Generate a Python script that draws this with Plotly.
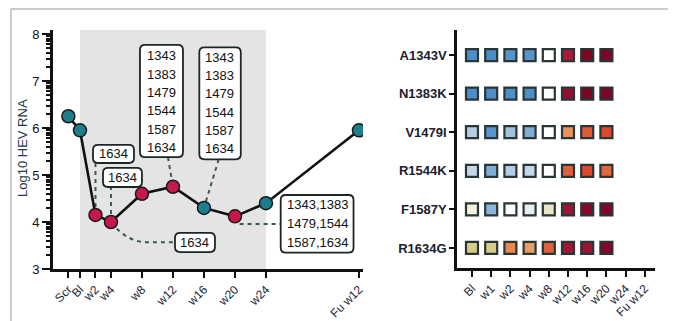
import math
import plotly.graph_objects as go

# ---------------- data: left panel ----------------
timepoints = ["Scr", "Bl", "w2", "w4", "w8", "w12", "w16", "w20", "w24", "Fu w12"]
weeks = [-1.5, 0, 2, 4, 8, 12, 16, 20, 24, 36]
log_hev_rna = [6.25, 5.95, 4.15, 4.0, 4.6, 4.75, 4.3, 4.12, 4.4, 5.95]
variant_detected = [False, False, True, True, True, True, False, True, False, False]

# ---------------- data: right panel ----------------
mutations = ["A1343V", "N1383K", "V1479I", "R1544K", "F1587Y", "R1634G"]
hm_timepoints = ["Bl", "w1", "w2", "w4", "w8", "w12", "w16", "w20", "w24", "Fu w12"]
a1343v = [-0.85, -0.85, -0.8, -0.8, 0.0, 0.86, 0.98, 0.98, None, None]
n1383k = [-0.85, -0.85, -0.85, -0.85, 0.0, 0.92, 0.98, 0.98, None, None]
v1479i = [-0.4, -0.8, -0.5, -0.65, 0.0, 0.5, 0.66, 0.72, None, None]
r1544k = [-0.3, -0.65, -0.4, -0.3, 0.0, 0.64, 0.72, 0.62, None, None]
f1587y = [0.1, -0.6, 0.0, -0.12, 0.16, 0.9, 0.95, 0.97, None, None]
r1634g = [0.3, 0.3, 0.52, 0.46, 0.64, 0.88, 0.9, 0.96, None, None]
hm_rows = [a1343v, n1383k, v1479i, r1544k, f1587y, r1634g]

# page body has an 8px margin: work in window pixels and subtract it
OFF = 8
W, H = 676 - OFF, 321 - OFF


def px(v):
    return (v - OFF) / W


def py(v):
    return 1 - (v - OFF) / H


# left plot area in window px
LX0, LX1, LY0, LY1 = 53, 363, 30, 269
XR = [-3.48, 36.52]
YR = [3, 8.085]
SX = (LX1 - LX0) / (XR[1] - XR[0])
SY = (LY1 - LY0) / (YR[1] - YR[0])
# right plot area in window px
RX0, RX1, RY0, RY1 = 457, 655, 30, 268

TEAL = "#1d7d8c"
RED = "#c6184a"
DASH = "#3c5a50"
INK = "#15202b"
FONT = "Liberation Sans, Arial, sans-serif"

fig = go.Figure()

fig.add_trace(go.Scatter(
    x=weeks, y=log_hev_rna, mode="lines+markers",
    line=dict(color="#111111", width=2.6),
    marker=dict(size=13, color=[RED if v else TEAL for v in variant_detected],
                line=dict(color="#1a1a1a", width=1.5)),
    xaxis="x", yaxis="y", hoverinfo="skip", showlegend=False,
))

cs = [
    [0.0, "#3a7cbd"], [0.08, "#4d8fc9"], [0.2, "#8bb6db"], [0.3, "#b3cde4"],
    [0.42, "#dce8f1"], [0.5, "#ffffff"], [0.56, "#efedd8"], [0.65, "#d6cd86"],
    [0.72, "#eaa46e"], [0.76, "#e88a50"], [0.82, "#e0603a"], [0.86, "#e04830"],
    [0.93, "#a81a3a"], [1.0, "#760020"],
]
hx, hy, hv = [], [], []
for ri, row in enumerate(hm_rows):
    for ci, v in enumerate(row):
        if v is None:
            continue
        hx.append(ci)
        hy.append(len(mutations) - 1 - ri)
        hv.append(v)
fig.add_trace(go.Scatter(
    x=hx, y=hy, mode="markers",
    marker=dict(symbol="square", size=12, color=hv, colorscale=cs, cmin=-1, cmax=1,
                line=dict(color="#2a3636", width=2.2)),
    xaxis="x2", yaxis="y2", hoverinfo="skip", showlegend=False,
))

shapes = []
shapes.append(dict(type="line", xref="paper", yref="paper", x0=px(11), x1=1, y0=py(9), y1=py(9),
                   line=dict(color="#cccccc", width=2)))
shapes.append(dict(type="line", xref="paper", yref="paper", x0=px(11), x1=px(11), y0=0, y1=py(9),
                   line=dict(color="#cccccc", width=2)))
shapes.append(dict(type="rect", xref="x", yref="y", x0=0, x1=24, y0=3, y1=YR[1],
                   fillcolor="#e4e4e4", line=dict(width=0), layer="below"))

dl = dict(color=DASH, width=2, dash="4px,4px")
connectors = [
    "M2,4.15 L2,5.255",
    "M4,4.0 L4,4.745",
    "M4,3.98 Q6.2,3.57 8.6,3.57 L12.26,3.57",
    "M11.35,5.38 L12,4.75",
    "M17.9,5.334 L16,4.3",
    "M20.6,3.96 L25.9,3.96",
]
for p in connectors:
    shapes.append(dict(type="path", xref="x", yref="y", path=p, line=dl, layer="below"))


def rrect(x0, x1, y0, y1, r=5):
    rx, ry = r / SX, r / SY
    return (f"M{x0 + rx},{y0} L{x1 - rx},{y0} Q{x1},{y0} {x1},{y0 + ry} "
            f"L{x1},{y1 - ry} Q{x1},{y1} {x1 - rx},{y1} L{x0 + rx},{y1} "
            f"Q{x0},{y1} {x0},{y1 - ry} L{x0},{y0 + ry} Q{x0},{y0} {x0 + rx},{y0} Z")


boxes = [
    (["1634"], 1.68, 6.97, 5.255, 5.64, 4.32, 5.447, 0),
    (["1634"], 2.97, 8.0, 4.745, 5.15, 5.48, 4.947, 0),
    (["1634"], 12.26, 17.42, 3.36, 3.77, 14.84, 3.564, 0),
    (["1343", "1383", "1479", "1544", "1587", "1634"], 7.74, 13.29, 5.38, 7.77, 10.5, 7.532, 0.39),
    (["1343", "1383", "1479", "1544", "1587", "1634"], 15.4, 20.75, 5.334, 7.717, 18.06, 7.504, 0.39),
    (["1343,1383", "1479,1544", "1587,1634"], 25.9, 35.3, 3.347, 4.574, 30.6, 4.362, 0.404),
]
annotations = []
for lines, x0, x1, y0, y1, cx, fy, step in boxes:
    shapes.append(dict(type="path", xref="x", yref="y", path=rrect(x0, x1, y0, y1),
                       fillcolor="white", line=dict(color="#1c2626", width=1.8), layer="above"))
    for k, t in enumerate(lines):
        annotations.append(dict(x=cx, y=fy - k * step, xref="x", yref="y", text=t, showarrow=False,
                                xanchor="center", yanchor="middle",
                                font=dict(size=13, color="#111111", family=FONT)))

annotations.append(dict(x=px(22), y=py(148), xref="paper", yref="paper", text="Log10 HEV RNA",
                        textangle=-90, showarrow=False, xanchor="center", yanchor="middle",
                        font=dict(size=13, color="#1d3b4a", family=FONT)))

minor_vals = [d + math.log10(k) for d in range(3, 8) for k in range(2, 10)]

fig.update_layout(
    width=W, height=H, margin=dict(l=0, r=0, t=0, b=0),
    paper_bgcolor="white", plot_bgcolor="rgba(0,0,0,0)",
    font=dict(family=FONT, color=INK),
    shapes=shapes, annotations=annotations, showlegend=False,
    xaxis=dict(domain=[px(LX0), px(LX1)], range=XR, anchor="y",
               tickmode="array", tickvals=weeks, ticktext=timepoints, tickangle=-45,
               ticks="outside", ticklen=6, tickwidth=2, tickcolor="#111",
               showline=True, linecolor="#111", linewidth=2.6,
               showgrid=False, zeroline=False, automargin=False,
               tickfont=dict(size=12, color="#1a2436")),
    yaxis=dict(domain=[py(LY1), py(LY0)], range=YR, anchor="x",
               tickmode="array", tickvals=[3, 4, 5, 6, 7, 8],
               ticks="outside", ticklen=8, tickwidth=2.2, tickcolor="#111",
               minor=dict(tickmode="array", tickvals=minor_vals, ticks="outside", ticklen=4,
                          tickwidth=1.5, tickcolor="#111"),
               showline=True, linecolor="#111", linewidth=2.6,
               showgrid=False, zeroline=False, automargin=False,
               tickfont=dict(size=13, color="#111")),
    xaxis2=dict(domain=[px(RX0), px(RX1)], range=[-0.78, 9.53], anchor="y2",
                tickmode="array", tickvals=list(range(len(hm_timepoints))), ticktext=hm_timepoints,
                tickangle=-45, ticks="outside", ticklen=6, tickwidth=2, tickcolor="#111",
                showline=True, linecolor="#111", linewidth=2.6,
                showgrid=False, zeroline=False, automargin=False,
                tickfont=dict(size=12, color="#1a2436")),
    yaxis2=dict(domain=[py(RY1), py(RY0)], range=[-0.52, 5.65], anchor="x2",
                tickmode="array", tickvals=list(range(len(mutations))), ticktext=mutations[::-1],
                ticks="outside", ticklen=5, tickwidth=2, tickcolor="#111",
                showline=True, linecolor="#111", linewidth=2.6,
                showgrid=False, zeroline=False, automargin=False,
                tickfont=dict(size=13, color="#1a2030", family=FONT, weight="bold")),
)

fig.write_html("out.html")
